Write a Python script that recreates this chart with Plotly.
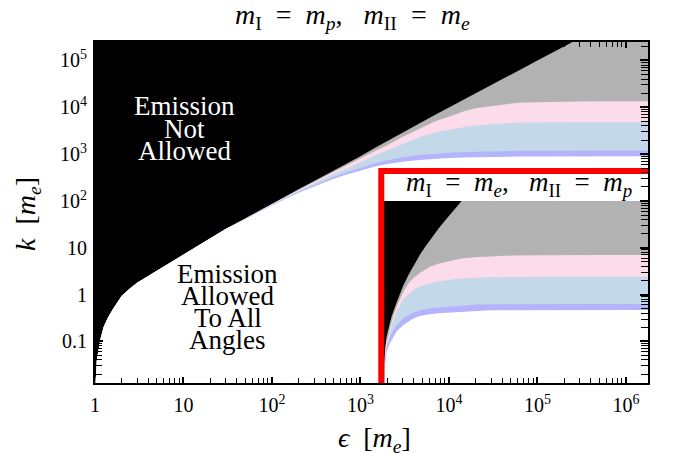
import plotly.graph_objects as go

# ---------------- data ----------------
# Main panel: m_I = m_p, m_II = m_e   (epsilon and k in units of m_e)
EPS = [1.0, 1.02, 1.05, 1.1, 1.15, 1.25, 1.4, 1.6, 2, 2.5, 3, 4, 5, 7, 10, 15, 20, 30,
       50, 100, 200, 300, 500, 700, 1e3, 1.5e3, 2e3, 3e3, 5e3, 7e3, 1e4, 1.5e4, 2e4, 3e4,
       5e4, 7e4, 1e5, 2e5, 3e5, 1e6, 1.8e6]
_LOW = [0.001, 0.015, 0.04, 0.075, 0.11, 0.2, 0.32, 0.49, 0.93, 1.36, 1.78, 2.5, 3.24, 4.76,
        7.2, 11.5, 15.9, 25]
K_EDGE = _LOW + [42.3, 88, 178, 267, 447, 624, 900, 1406, 1900, 2950, 4900, 6900, 9850, 14900,
                 2e4, 3e4, 5e4, 7e4, 1e5, 2e5, 3e5, 1e6, 1.8e6]
K_PINK = _LOW + [42.0, 87, 174, 258, 425, 585, 820, 1200, 1550, 2340, 3715, 5010, 6310, 8320,
                 9550, 10720, 12020, 12590, 12880, 13180, 13340, 13490, 13490]
K_BLUE = _LOW + [41.7, 85, 166, 240, 375, 495, 660, 955, 1200, 1620, 2400, 2880, 3310, 3800,
                 4070, 4370, 4620, 4730, 4790, 4790, 4790, 4790, 4790]
K_PURPLE = _LOW + [40.9, 82, 155, 218, 326, 410, 514, 647, 735, 853, 964, 1022, 1070, 1110,
                   1132, 1154, 1172, 1180, 1186, 1193, 1195, 1199, 1199]
K_ALLOWED = _LOW + [40.4, 80, 149, 206, 299, 368, 450, 549, 611, 690, 760, 796, 825, 849,
                    861, 874, 884, 889, 892, 896, 897, 899, 900]

# Inset: m_I = m_e, m_II = m_p (drawn on the same axes)
EPS_IN = [1836, 1845, 1855, 1875, 1910, 1975, 2065, 2250, 2565, 3050, 3500, 3950, 4700, 5300,
          6100, 7570, 9400, 11500, 13900, 16000, 20000, 30000, 53300, 1e5, 158000, 5e5, 1.8e6]
KI_EDGE = [0.001, 0.005, 0.0126, 0.047, 0.079, 0.126, 0.178, 0.339, 0.676, 1.55, 2.63, 4.07,
           7.08, 10.0, 14.6, 25.1, 41.7, 66.1, 100, 135, 214, 214, 214, 214, 214, 214, 214]
KI_PINK = [0.001, 0.004, 0.01, 0.038, 0.063, 0.1, 0.132, 0.263, 0.55, 1.15, 1.74, 2.24, 2.88,
           3.39, 3.93, 4.57, 5.13, 5.5, 5.89, 6.1, 6.31, 6.53, 6.84, 6.92, 7.0, 7.0, 7.0]
KI_BLUE = [0.001, 0.0032, 0.0079, 0.0316, 0.0525, 0.083, 0.112, 0.209, 0.437, 0.794, 1.02, 1.25,
           1.48, 1.62, 1.74, 1.91, 2.04, 2.11, 2.19, 2.24, 2.29, 2.34, 2.37, 2.39, 2.40, 2.40, 2.40]
KI_PURPLE = [0.001, 0.0025, 0.0063, 0.0251, 0.0437, 0.0708, 0.0891, 0.148, 0.224, 0.309, 0.363,
             0.407, 0.457, 0.484, 0.507, 0.531, 0.55, 0.566, 0.582, 0.592, 0.61, 0.621, 0.631,
             0.631, 0.631, 0.631, 0.631]
KI_ALLOWED = [0.001, 0.002, 0.005, 0.02, 0.0347, 0.0562, 0.0759, 0.107, 0.162, 0.224, 0.269,
              0.309, 0.347, 0.363, 0.380, 0.398, 0.407, 0.42, 0.432, 0.439, 0.452, 0.459, 0.462,
              0.465, 0.468, 0.468, 0.468]
INSET_TOP = 100
RED_EPS = 1720
RED_K = 435

X_TICKS = [1, 10, 100, 1e3, 1e4, 1e5, 1e6]
X_TICKTEXT = ["1", "10", "10<sup>2</sup>", "10<sup>3</sup>", "10<sup>4</sup>", "10<sup>5</sup>", "10<sup>6</sup>"]
Y_TICKS = [0.1, 1, 10, 100, 1e3, 1e4, 1e5]
Y_TICKTEXT = ["0.1", "1", "10", "10<sup>2</sup>", "10<sup>3</sup>", "10<sup>4</sup>", "10<sup>5</sup>"]
X_RANGE = [0, 6.25]
Y_RANGE = [-1.89, 5.395]
K_FLOOR = 0.001

GRAY = "#b2b2b2"
PINK = "#fcdbea"
BLUE = "#c3d8e8"
PURPLE = "#b4b4fc"
FONT = "Liberation Serif"

fig = go.Figure()


def polygon(xs, ys, color):
    fig.add_trace(go.Scatter(x=xs, y=ys, fill="toself", fillcolor=color, mode="lines",
                             line=dict(width=0), hoverinfo="skip", showlegend=False))


def below(xs, ys, color):
    polygon(list(xs) + [xs[-1], xs[0]], list(ys) + [K_FLOOR, K_FLOOR], color)


# main panel: layered fills on the black background
below(EPS, K_EDGE, GRAY)
below(EPS, K_PINK, PINK)
below(EPS, K_BLUE, BLUE)
below(EPS, K_PURPLE, PURPLE)
below(EPS, K_ALLOWED, "white")

# inset
e0, e1 = EPS_IN[0], EPS_IN[-1]
polygon([e0, e1, e1, e0], [K_FLOOR, K_FLOOR, INSET_TOP, INSET_TOP], "black")
below(EPS_IN, KI_EDGE, GRAY)
below(EPS_IN, KI_PINK, PINK)
below(EPS_IN, KI_BLUE, BLUE)
below(EPS_IN, KI_PURPLE, PURPLE)
below(EPS_IN, KI_ALLOWED, "white")
# white title strip of the inset
polygon([RED_EPS, e1 * 1.1, e1 * 1.1, RED_EPS], [INSET_TOP, INSET_TOP, RED_K, RED_K], "white")

# red frame of the inset
fig.add_trace(go.Scatter(x=[RED_EPS, RED_EPS, e1 * 1.1], y=[K_FLOOR, RED_K, RED_K],
                         mode="lines", line=dict(color="red", width=6),
                         hoverinfo="skip", showlegend=False))

minor_x = [m * 10 ** d for d in range(0, 7) for m in range(2, 10)]
minor_y = [m * 10.0 ** d for d in range(-2, 6) for m in range(2, 10)]

axis_common = dict(type="log", showgrid=False, zeroline=False, showline=True,
                   linecolor="black", linewidth=2, mirror="ticks", ticks="inside",
                   tickcolor="black", tickwidth=1.5,
                   tickfont=dict(family=FONT, size=20, color="black"))

fig.update_xaxes(**axis_common, range=X_RANGE, tickmode="array", tickvals=X_TICKS,
                 ticktext=X_TICKTEXT, ticklen=6, ticklabelstandoff=3,
                 minor=dict(tickmode="array", tickvals=minor_x, ticks="inside",
                            ticklen=5, tickcolor="black", tickwidth=1.2, showgrid=False))
fig.update_yaxes(**axis_common, range=Y_RANGE, tickmode="array", tickvals=Y_TICKS,
                 ticktext=Y_TICKTEXT, ticklen=8, ticklabelstandoff=2,
                 minor=dict(tickmode="array", tickvals=minor_y, ticks="inside",
                            ticklen=7, tickcolor="black", tickwidth=1.2, showgrid=False))

NB = "\u00a0"


def mass_title(a, b):
    return ("<i>m</i><sub>I</sub>" + NB * 2 + "=" + NB * 2 + "<i>m</i><sub><i>" + a + "</i></sub>,"
            + NB * 3 + "<i>m</i><sub>II</sub>" + NB * 2 + "=" + NB * 2
            + "<i>m</i><sub><i>" + b + "</i></sub>")


annotations = []
PX_L, PX_W, PX_T, PX_H = 95, 553, 42, 341


def px(xp):
    return (xp - PX_L) / PX_W


def py(yp):
    return (PX_T + PX_H - yp) / PX_H


def note(text, x, y, size, color="black", angle=0):
    annotations.append(dict(text=text, x=px(x), y=py(y), xref="paper", yref="paper",
                            xanchor="center", yanchor="middle", showarrow=False,
                            textangle=angle, font=dict(family=FONT, size=size, color=color)))


for txt, yy in [("Emission", 106), ("Not", 129), ("Allowed", 151)]:
    note(txt, 184, yy, 27, "white")
for txt, yy in [("Emission", 274), ("Allowed", 296), ("To All", 318), ("Angles", 340)]:
    note(txt, 227.5, yy, 27, "black")
note(mass_title("e", "p"), 519, 184, 27)
note(mass_title("p", "e"), 352, 16, 28)
note("<i>\u03f5</i>" + NB * 2 + "[<i>m</i><sub><i>e</i></sub>]", 374, 439, 28)
note("<i>k</i>" + NB * 2 + "[<i>m</i><sub><i>e</i></sub>]", 27, 214, 28, angle=-90)

fig.update_layout(width=673, height=453, margin=dict(l=95, r=25, t=42, b=70),
                  paper_bgcolor="white", plot_bgcolor="black", showlegend=False,
                  annotations=annotations, font=dict(family=FONT))

fig.write_html("out.html", config={"displayModeBar": False},
               post_script="document.body.style.margin='0px';")
